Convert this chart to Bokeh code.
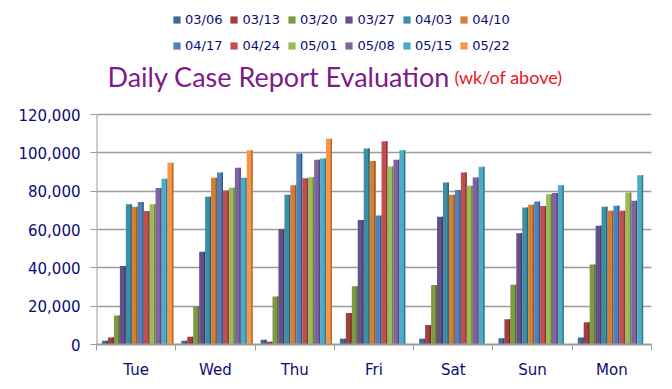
from bokeh.plotting import figure
from bokeh.models import (ColumnDataSource, FixedTicker, NumeralTickFormatter, Legend,
                          LegendItem, Label, Range1d)
from bokeh.transform import dodge
from bokeh.embed import file_html
from bokeh.resources import INLINE

# ---------------- data ----------------
days = ["Tue", "Wed", "Thu", "Fri", "Sat", "Sun", "Mon"]
weeks = ["03/06", "03/13", "03/20", "03/27", "04/03", "04/10",
         "04/17", "04/24", "05/01", "05/08", "05/15", "05/22"]

w0306 = [2000, 2000, 2500, 3000, 3000, 3300, 3600]
w0313 = [3700, 4000, 1500, 16500, 10200, 13200, 11600]
w0320 = [15100, 20000, 25000, 30400, 31000, 31200, 41800]
w0327 = [40900, 48400, 60200, 64900, 66600, 58000, 62000]
w0403 = [73200, 77100, 78100, 102200, 84500, 71500, 71900]
w0410 = [71900, 87000, 83100, 95800, 78100, 72900, 69800]
w0417 = [74300, 89700, 99600, 67300, 80600, 74600, 72400]
w0424 = [69600, 80400, 86800, 106000, 89700, 72200, 69800]
w0501 = [73200, 81800, 87300, 92900, 82800, 78400, 79300]
w0508 = [81600, 92200, 96400, 96400, 87100, 79000, 75000]
w0515 = [86500, 87000, 97000, 101400, 92700, 83100, 88300]
w0522 = [94800, 101400, 107400]          # only Tue, Wed, Thu reported

series = [w0306, w0313, w0320, w0327, w0403, w0410,
          w0417, w0424, w0501, w0508, w0515, w0522]

y_ticks = [0, 20000, 40000, 60000, 80000, 100000, 120000]

colors = ["#3E6A9E", "#A03F3C", "#7E9A47", "#65508A", "#3A8EA6", "#D17F37",
          "#4F81BD", "#C0504D", "#9BBB59", "#8064A2", "#4BACC6", "#F79646"]


def darker(hx, f=0.72):
    r, g, b = int(hx[1:3], 16), int(hx[3:5], 16), int(hx[5:7], 16)
    return "#%02x%02x%02x" % (int(r * f), int(g * f), int(b * f))


NAVY = "#0B0B78"
GRID = "#9C9C9C"

W, H = 664, 381
BOTTOM = 37
FRAME_H = H - BOTTOM            # frame spans the full height above the bottom axis
TOP_PX = 114                    # canvas y of the 120,000 line
y_top = y_ticks[-1] * FRAME_H / (FRAME_H - TOP_PX)

p = figure(width=W, height=H, output_backend="svg", toolbar_location=None,
           x_range=Range1d(0, len(days)), y_range=Range1d(0, y_top),
           min_border_left=96, min_border_right=13, min_border_top=0,
           min_border_bottom=BOTTOM, outline_line_color=None)
p.background_fill_color = "white"
p.border_fill_color = "white"

centers = [i + 0.5 for i in range(len(days))]

bw = 0.075
shift = 0.02
renderers = []
n = len(weeks)
for j, (wk, vals, c) in enumerate(zip(weeks, series, colors)):
    src = ColumnDataSource(dict(x=centers[:len(vals)], top=vals))
    off = (j - (n - 1) / 2) * bw + shift
    r = p.vbar(x=dodge("x", off), top="top", width=bw, source=src,
               fill_color=c, line_color=None)
    p.vbar(x=dodge("x", off + bw / 2 - 0.009), top="top", width=0.018, source=src,
           fill_color=darker(c), line_color=None)
    renderers.append(r)

# vertical value-axis line (only over the tick span)
p.segment(x0=[0], y0=[y_ticks[0]], x1=[0], y1=[y_ticks[-1]],
          line_color=GRID, line_width=2)

# axes
p.yaxis.ticker = FixedTicker(ticks=y_ticks)
p.yaxis.formatter = NumeralTickFormatter(format="0,0")
p.yaxis.major_label_text_font = "DejaVu Sans"
p.yaxis.major_label_text_font_size = "15px"
p.yaxis.major_label_text_color = NAVY
p.yaxis.axis_line_color = None
p.yaxis.major_tick_line_color = GRID
p.yaxis.major_tick_out = 6
p.yaxis.major_tick_in = 0
p.yaxis.minor_tick_line_color = None
p.yaxis.major_label_standoff = 10

p.xaxis.ticker = FixedTicker(ticks=centers, minor_ticks=list(range(len(days) + 1)))
p.xaxis.major_label_overrides = {c: d for c, d in zip(centers, days)}
p.xaxis.major_label_text_font = "DejaVu Sans"
p.xaxis.major_label_text_font_size = "15px"
p.xaxis.major_label_text_color = NAVY
p.xaxis.axis_line_color = GRID
p.xaxis.axis_line_width = 2
p.xaxis.major_tick_line_color = None
p.xaxis.major_tick_out = 0
p.xaxis.major_tick_in = 0
p.xaxis.minor_tick_line_color = GRID
p.xaxis.minor_tick_out = 6
p.xaxis.minor_tick_in = 0
p.xaxis.major_label_standoff = 10

p.xgrid.grid_line_color = None
p.ygrid.ticker = FixedTicker(ticks=y_ticks)
p.ygrid.grid_line_color = GRID
p.ygrid.grid_line_width = 1.5

# legends (two rows of six)
for row, vy in ((0, 317), (1, 291)):
    items = [LegendItem(label=weeks[k], renderers=[renderers[k]])
             for k in range(row * 6, row * 6 + 6)]
    lg = Legend(items=items, orientation="horizontal", location=(76, vy),
                glyph_width=9, glyph_height=9, label_standoff=4, spacing=7,
                padding=0, margin=0, label_height=14,
                label_text_font="DejaVu Sans", label_text_font_size="13px",
                label_text_color=NAVY, border_line_color=None,
                background_fill_alpha=0)
    p.add_layout(lg, "center")

# title
p.add_layout(Label(x=11, y=268, x_units="screen", y_units="screen",
                   text="Daily Case Report Evaluation", text_font="Lato",
                   text_font_size="27px", text_color="#7E1A8A",
                   text_baseline="alphabetic"))
p.add_layout(Label(x=358, y=268, x_units="screen", y_units="screen",
                   text="(wk/of above)", text_font="Lato",
                   text_font_size="18px", text_color="#E8141E",
                   text_baseline="alphabetic"))

open("out.html", "w").write(file_html(p, INLINE))
